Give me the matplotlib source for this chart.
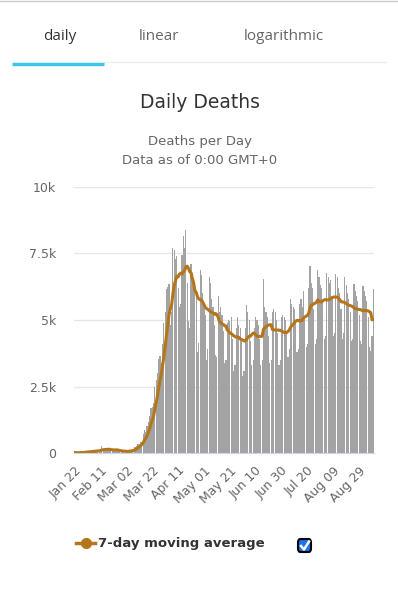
import matplotlib.pyplot as plt
from matplotlib.lines import Line2D
from matplotlib.patches import FancyBboxPatch
import numpy as np
import pandas as pd

W, H = 398, 610

# daily deaths, Jan 22 .. Sep 09
jan = [17, 8, 8, 15, 24, 26, 26, 38, 43, 46]
feb = [45, 57, 64, 66, 73, 73, 86, 89, 97, 108, 97, 254, 121, 143, 142, 106,
       98, 139, 115, 125, 111, 98, 150, 71, 64, 37, 58, 67, 72]
mar = [59, 67, 72, 84, 96, 104, 103, 228, 211, 277, 323, 347, 428, 413, 711,
       859, 772, 1028, 1175, 1388, 1691, 1734, 1886, 2500, 2750, 3000, 3550,
       3650, 3400, 4100, 4900]
apr = [5300, 6150, 6250, 6350, 4800, 5300, 7700, 7650, 7300, 7400, 6200, 5500,
       5600, 7450, 8150, 7700, 8380, 6400, 4950, 4700, 7100, 6750, 6500, 6350,
       5900, 3800, 4150, 6880, 6700, 6000]
may = [5600, 5200, 3500, 3900, 6600, 6400, 5800, 5500, 4800, 3700, 3600, 5900,
       5300, 5500, 5200, 4600, 3400, 3500, 4900, 5000, 4950, 5100, 4300, 3100,
       3300, 4700, 5100, 4800, 4700, 4200, 2900]
jun = [3100, 4700, 5550, 5300, 5000, 4200, 3300, 3500, 4700, 5100, 5000, 4800,
       4300, 3300, 3500, 6550, 5500, 5300, 5100, 4400, 3400, 3500, 5300, 5400,
       5300, 5000, 4500, 3300, 3500, 5100]
jul = [5200, 5100, 5000, 4500, 3600, 3900, 5800, 5600, 5500, 5400, 4900, 3800,
       3900, 5600, 5800, 5500, 6100, 5100, 4000, 4100, 6200, 7030, 6400, 6200,
       5400, 4100, 4300, 6880, 6600, 6300, 6200]
aug = [5700, 4300, 4400, 6780, 6600, 6400, 6500, 5900, 4400, 4500, 6730, 6600,
       6200, 6000, 5400, 4300, 4500, 6600, 6300, 6000, 5800, 5300, 4200, 4300,
       6340, 6100, 5900, 5700, 5200, 4200, 4100]
sep = [6280, 6100, 5900, 5700, 5100, 4000, 3850, 4400, 6150]

daily_deaths = jan + feb + mar + apr + may + jun + jul + aug + sep
dates = pd.date_range('2020-01-22', periods=len(daily_deaths), freq='D')
moving_avg = pd.Series(daily_deaths).rolling(7, min_periods=1).mean()

y_ticks = [0, 2500, 5000, 7500, 10000]
y_labels = ['0', '2.5k', '5k', '7.5k', '10k']

bar_color = '#a3a3a3'
line_color = '#b5761b'

fig = plt.figure(figsize=(W / 100, H / 100), dpi=100)


def fx(x):
    return x / W


def fy(y):
    return 1 - y / H


# top border and tabs
fig.add_artist(Line2D([0, 1], [fy(0.5)] * 2, color='#cccccc', lw=1))
tabs = [('daily', 60, '#333333'), ('linear', 159, '#666666'),
        ('logarithmic', 284, '#666666')]
for name, cx, col in tabs:
    fig.text(fx(cx), fy(37), name, ha='center', va='center', fontsize=11,
             color=col, family='Open Sans')
fig.add_artist(Line2D([fx(104), fx(386)], [fy(61.5)] * 2, color='#eeeeee', lw=1))
fig.add_artist(Line2D([fx(12), fx(104)], [fy(64)] * 2, color='#3fc4ea', lw=2.5,
                      solid_capstyle='butt'))

# titles
fig.text(fx(200), fy(103), 'Daily Deaths', ha='center', va='center',
         fontsize=13.5, color='#333333')
fig.text(fx(200), fy(141), 'Deaths per Day', ha='center', va='center',
         fontsize=9.5, color='#666666')
fig.text(fx(200), fy(160), 'Data as of 0:00 GMT+0', ha='center', va='center',
         fontsize=9.5, color='#666666')

# chart
ax = fig.add_axes([fx(74), fy(453), 300 / W, 266 / H])
x = np.arange(len(daily_deaths))
ax.bar(x, daily_deaths, width=0.88, color=bar_color, linewidth=0)
ax.plot(x, moving_avg, color=line_color, lw=2.2)
ax.set_xlim(-0.5, len(daily_deaths) - 0.5)
ax.set_ylim(0, 10000)
ax.set_yticks(y_ticks, labels=y_labels)
ax.yaxis.grid(True, color='#e6e6e6', lw=1)
ax.set_axisbelow(True)
tick_pos = x[::20]
ax.set_xticks(tick_pos, labels=[d.strftime('%b %d') for d in dates[::20]],
              rotation=45, ha='right', rotation_mode='anchor')
for s in ['top', 'right', 'left']:
    ax.spines[s].set_visible(False)
ax.spines['bottom'].set_color('#ccd6eb')
ax.tick_params(axis='y', length=0, pad=13, labelsize=9, labelcolor='#666666')
ax.tick_params(axis='x', length=0, pad=8, labelsize=9, labelcolor='#666666')

# legend
ly = 543
fig.add_artist(Line2D([fx(76), fx(95)], [fy(ly)] * 2, color=line_color, lw=2.5))
fig.add_artist(Line2D([fx(85.5)], [fy(ly)], marker='o', markersize=7,
                      color=line_color, lw=0))
fig.text(fx(98), fy(ly), '7-day moving average', ha='left', va='center',
         fontsize=9.5, fontweight='bold', color='#333333')
box = FancyBboxPatch((fx(298), fy(552)), 13 / W, 13 / H,
                     boxstyle='round,pad=0,rounding_size=0.006',
                     transform=fig.transFigure, facecolor='#1a73e8',
                     edgecolor='black', lw=1.5)
fig.add_artist(box)
fig.add_artist(Line2D([fx(301), fx(304), fx(309)], [fy(546), fy(549.5), fy(541.5)],
                      color='white', lw=1.8))

fig.savefig('out.png', dpi=100)
